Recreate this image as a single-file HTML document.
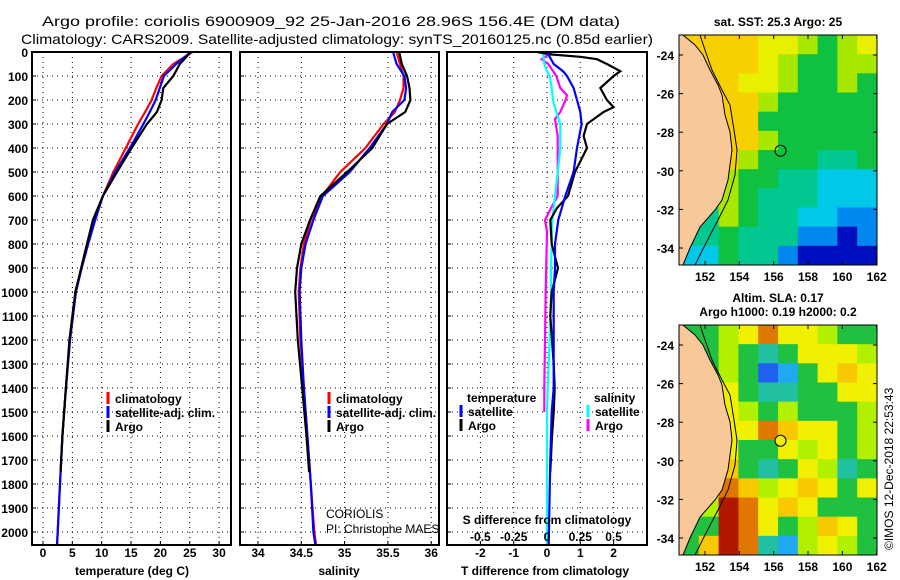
<!DOCTYPE html>
<html><head><meta charset="utf-8">
<style>
html,body{margin:0;padding:0;background:#fff;}
svg{display:block;font-family:"Liberation Sans",sans-serif;}
.t{font-weight:bold;font-size:12px;fill:#000;}
</style></head>
<body>
<svg id="fig" width="900" height="580" viewBox="0 0 900 580" xmlns="http://www.w3.org/2000/svg">
<text x="42" y="26" font-size="14" textLength="578" lengthAdjust="spacingAndGlyphs">Argo profile: coriolis 6900909_92 25-Jan-2016 28.96S 156.4E (DM data)</text>
<text x="21" y="44" font-size="14" textLength="632" lengthAdjust="spacingAndGlyphs">Climatology: CARS2009. Satellite-adjusted climatology: synTS_20160125.nc (0.85d earlier)</text>
</svg>
<script>
// ---- data ----
const climDepth = [0,50,100,150,200,250,300,400,500,600,700,800,900,1000,1200,1400,1600,1800,2000,2050];
const argoDepth = [0,50,100,150,200,250,300,400,500,600,700,800,900,1000,1200,1400,1600,1750];
const tempClim = [25.5,22.2,20.2,19.3,18.5,17.4,16.2,14.1,12.0,10.2,8.7,7.5,6.5,5.6,4.6,3.9,3.3,2.9,2.5,2.4];
const tempSat  = [25.2,22.7,20.6,19.9,19.2,18.2,17.1,14.8,12.3,10.2,8.9,7.7,6.6,5.6,4.6,3.9,3.3,2.9,2.5,2.4];
const tempArgo = [25.2,23.3,22.2,20.5,20.2,19.4,17.7,15.1,12.6,10.2,8.5,7.5,6.5,5.5,4.5,3.9,3.3,3.0];
const salClim = [35.6,35.64,35.68,35.68,35.64,35.58,35.45,35.24,34.95,34.74,34.61,34.53,34.49,34.47,34.49,34.53,34.57,34.61,34.65,34.67];
const salSat  = [35.56,35.6,35.69,35.71,35.69,35.55,35.49,35.29,35.06,34.75,34.64,34.55,34.5,34.48,34.5,34.53,34.57,34.61,34.64,34.66];
const salArgo = [35.63,35.66,35.72,35.75,35.76,35.7,35.49,35.32,35.03,34.72,34.6,34.5,34.45,34.43,34.46,34.51,34.56,34.59];
const dTDepth = [0,10,20,30,50,80,100,150,200,230,250,300,350,400,500,600,650,700,800,900,1000,1100,1200,1300,1400,1500,1600,1750];
const dTArgo = [-0.3,0.1,1.0,1.5,1.8,2.2,2.0,1.6,1.8,2.0,1.7,1.2,1.1,1.2,0.84,0.63,0.3,0.1,0.14,0.33,0.14,0.1,0.15,0.2,0.23,0.2,0.15,0.1];
const satDDepth = [0,50,80,100,150,200,250,300,400,500,600,700,800,900,1000,1200,1400,1500,1700,2050];
const dTSat = [0,0.2,0.48,0.6,0.8,0.9,1.0,1.04,0.9,0.8,0.55,0.34,0.24,0.24,0.2,0.2,0.2,0.14,0.1,0.05];
const dSSat = [-0.03,-0.02,0.0,0.02,0.035,0.045,0.07,0.1,0.1,0.08,0.06,0.04,0.035,0.03,0.03,0.02,0.005,0,0,0];
const argoSDepth = [0,30,50,100,150,180,200,250,280,350,400,500,600,650,700,750,1000,1200,1400,1500];
const dSArgo = [0.035,-0.04,0.01,0.07,0.1,0.15,0.14,0.1,0.06,0.08,0.08,0.08,0.08,0.03,-0.015,0,-0.01,-0.015,-0.02,-0.02];
const depthTicks = [0,100,200,300,400,500,600,700,800,900,1000,1100,1200,1300,1400,1500,1600,1700,1800,1900,2000];
const tempTicks = [0,5,10,15,20,25,30];
const salTicks = [34,34.5,35,35.5,36];
const salTickLabels = ["34","34.5","35","35.5","36"];
const dTTicks = [-2,-1,0,1,2];
const dSTicks = [-0.5,-0.25,0,0.25,0.5];
const dSTickLabels = ["-0.5","-0.25","0","0.25","0.5"];
const latTicks = [-24,-26,-28,-30,-32,-34];
const lonTicks = [152,154,156,158,160,162];
const sstGrid = [
"ooooyylgly","ooooylggll","oooyylgglg","looolggggg","looogggggg","ggoolggggg",
"ggolgggttg","gglggttccc","gglgtttccc","ttlgttccbb","ttgtttbbdb","ccgttbdddd"];
const slaGrid = [
"gglyryylgg","gglgtgyyyl","gglgbcgyoy","ggygttggyy","ggylglgggl","glyyroyygl",
"gyyggylygl","gyogtgyltg","gyrolyoygy","glRryoyggg","ggRryglovg","goRrtclylg"];
const sstColors = {o:"#f8d000",y:"#e8f000",l:"#a8e800",g:"#10c040",t:"#00c890",c:"#00c8e8",b:"#0088f0",d:"#0010c0"};
const slaColors = {g:"#20c040",l:"#b0f000",y:"#f0f000",o:"#f8c800",r:"#e07800",R:"#b01800",t:"#20c0a0",c:"#20a8f0",b:"#2060f0",v:"#f0f000"};

// ---- helpers ----
const svg = document.getElementById('fig');
const NS = 'http://www.w3.org/2000/svg';
function mk(tag, attrs, parent){const e=document.createElementNS(NS,tag);for(const k in attrs)e.setAttribute(k,attrs[k]);(parent||svg).appendChild(e);return e;}
const Y0=52, PY=0.24;
const yD = d => Y0 + d*PY;
const PB = 545;
const xT = v => 43 + v*5.87;
const xS = v => 258 + (v-34)*86.6;
const xDT = v => 547 + v*33.3;
const xDS = v => 547 + v*133.2;

function panel(name, x0, x1){
  const g = mk('g',{});
  
  
  depthTicks.forEach(d=>{ if(d>0){ const l=mk('line',{x1:x0,x2:x1,y1:yD(d),y2:yD(d),stroke:'#000','stroke-width':1,'stroke-dasharray':'1,4'},g);
     
    mk('line',{x1:x0,x2:x0+4,y1:yD(d),y2:yD(d),stroke:'#000'},g);} });
  return g;
}
function frame(g,x0,x1){const r=mk('rect',{x:x0,y:Y0,width:x1-x0,height:PB-Y0,fill:'none',stroke:'#000','stroke-width':2},g);
   }
function vgrid(g,xs){xs.forEach(x=>{const l=mk('line',{x1:x,x2:x,y1:Y0,y2:PB,stroke:'#000','stroke-width':1,'stroke-dasharray':'1,4'},g);
   
  mk('line',{x1:x,x2:x,y1:PB,y2:PB-4,stroke:'#000'},g);});}
function line(g,xs,ds,fx,color,name){
  const pts = xs.map((v,i)=>fx(v).toFixed(1)+','+yD(ds[i]).toFixed(1)).join(' ');
  const p = mk('polyline',{points:pts,fill:'none',stroke:color,'stroke-width':2.2,'stroke-linejoin':'miter'},g);
  
  
}
function txt(g,x,y,s,opts){const t=mk('text',Object.assign({x:x,y:y,'class':'t'},opts||{}),g);t.textContent=s;return t;}
function legendEntry(g,x,y,color,label,name){
  const b=mk('line',{x1:x,x2:x,y1:y-11,y2:y+1,stroke:color,'stroke-width':3},g);
   
  const t=txt(g,x+7,y,label);  
}

// depth axis labels
const dl = mk('g',{});


depthTicks.forEach(d=>{const t=txt(dl,28,yD(d)+5,String(d),{'text-anchor':'end'});
   });

// Panel 1: temperature
const g1 = panel('temperature-panel',32,231);
vgrid(g1,tempTicks.map(xT));
line(g1,tempClim,climDepth,xT,'#ff0000','temp-climatology-line');
line(g1,tempSat,climDepth,xT,'#0000ff','temp-satellite-line');
line(g1,tempArgo,argoDepth,xT,'#000000','temp-argo-line');
frame(g1,32,231);
tempTicks.forEach(v=>{const t=txt(g1,xT(v),557,String(v),{'text-anchor':'middle'});});
{const t=txt(g1,132,575,'temperature (deg C)',{'text-anchor':'middle'});}
legendEntry(g1,108,403,'#ff0000','climatology','legend-climatology');
legendEntry(g1,108,417,'#0000ff','satellite-adj. clim.','legend-satellite');
legendEntry(g1,108,431,'#000000','Argo','legend-argo');

// Panel 2: salinity
const g2 = panel('salinity-panel',240,439);
vgrid(g2,salTicks.map(xS));
line(g2,salClim,climDepth,xS,'#ff0000','sal-climatology-line');
line(g2,salSat,climDepth,xS,'#0000ff','sal-satellite-line');
line(g2,salArgo,argoDepth,xS,'#000000','sal-argo-line');
frame(g2,240,439);
salTicks.forEach((v,i)=>{const t=txt(g2,xS(v),557,salTickLabels[i],{'text-anchor':'middle'});});
{const t=txt(g2,339,575,'salinity',{'text-anchor':'middle'});}
legendEntry(g2,329,403,'#ff0000','climatology','legend-sal-climatology');
legendEntry(g2,329,417,'#0000ff','satellite-adj. clim.','legend-sal-satellite');
legendEntry(g2,329,431,'#000000','Argo','legend-sal-argo');
{const t=txt(g2,326,518,'CORIOLIS',{'class':'','font-size':'12'});}
{const t=txt(g2,326,533,'PI: Christophe MAES',{'class':'','font-size':'12'});}

// Panel 3: differences
const g3 = panel('difference-panel',447,647);
vgrid(g3,dTTicks.map(xDT));
line(g3,dSArgo,argoSDepth,xDS,'#ff00ff','sal-diff-argo-line');
line(g3,dSSat,satDDepth,xDS,'#00ffff','sal-diff-satellite-line');
line(g3,dTArgo,dTDepth,xDT,'#000000','temp-diff-argo-line');
line(g3,dTSat,satDDepth,xDT,'#0000ff','temp-diff-satellite-line');
frame(g3,447,647);
dTTicks.forEach(v=>{const t=txt(g3,xDT(v),557,String(v),{'text-anchor':'middle'});});
dSTicks.forEach((v,i)=>{const t=txt(g3,xDS(v),541,dSTickLabels[i],{'text-anchor':'middle'});});
{const t=txt(g3,547,524,'S difference from climatology',{'text-anchor':'middle'});}
{const t=txt(g3,545,575,'T difference from climatology',{'text-anchor':'middle'});}
{const t=txt(g3,467,402,'temperature');}
{const t=txt(g3,594,402,'salinity');}
legendEntry(g3,461,416,'#0000ff','satellite','legend-tdiff-satellite');
legendEntry(g3,461,430,'#000000','Argo','legend-tdiff-argo');
legendEntry(g3,588,416,'#00ffff','satellite','legend-sdiff-satellite');
legendEntry(g3,588,430,'#ff00ff','Argo','legend-sdiff-argo');

// ---- maps ----
const MX0=679, MX1=877, MW=MX1-MX0;
const lonX = lon => 705 + (lon-152)*17.17;
const latY = (top,lat) => top + 20 + (-24-lat)*19.3;
const coastRel = [[679,0],[683,0],[695,10],[703,20],[710,35],[718,50],[722,60],[725,80],[730,97],[732,115],[730,130],[728,145],[722,165],[715,175],[700,192],[690,213],[683,230],[679,230]];
const shelfRel = [[700,0],[705,15],[712,35],[722,55],[730,70],[734,95],[737,115],[735,140],[728,165],[718,185],[705,210],[695,230]];
function drawMap(name,top,grid,colors,circleFill,titleLines){
  const g = mk('g',{});
  
  
  const H=230, rows=grid.length;
  const ch = H/rows;
  const cid='clip'+name;
  const cp = mk('clipPath',{id:cid},g); mk('rect',{x:MX0,y:top,width:MW,height:H},cp);
  const cg = mk('g',{'clip-path':'url(#'+cid+')'},g);
  grid.forEach((row,r)=>{
    const cells=row.replace(/ /g,'');
    const cw = MW/cells.length;
    for(let c=0;c<cells.length;c++){
      const cell=mk('rect',{x:MX0+c*cw,y:top+r*ch,width:cw+0.6,height:ch+0.6,fill:colors[cells[c]]||'#10c040'},cg);
      
      
    }
  });
  const land = mk('polygon',{points:coastRel.map(p=>p[0]+','+(p[1]+top)).join(' '),fill:'#f8c898',stroke:'#000','stroke-width':1},cg);
  
  
  const shelf = mk('polyline',{points:shelfRel.map(p=>p[0]+','+(p[1]+top)).join(' '),fill:'none',stroke:'#000','stroke-width':1},cg);
  
  
  const circ = mk('circle',{cx:lonX(156.4),cy:latY(top,-28.96),r:5.5,fill:circleFill,stroke:'#000','stroke-width':1},g);
  
  
  const fr = mk('rect',{x:MX0,y:top,width:MW,height:H,fill:'none',stroke:'#000','stroke-width':1},g);
  
  
  latTicks.forEach(l=>{
    const yy = latY(top,l);
    mk('line',{x1:MX0,x2:MX0+4,y1:yy,y2:yy,stroke:'#000'},g);
    mk('line',{x1:MX1,x2:MX1-4,y1:yy,y2:yy,stroke:'#000'},g);
    const t=txt(g,674,yy+5,String(l),{'text-anchor':'end'});
     });
  lonTicks.forEach(l=>{const x=lonX(l);
    mk('line',{x1:x,x2:x,y1:top+H,y2:top+H-4,stroke:'#000'},g);
    mk('line',{x1:x,x2:x,y1:top,y2:top+4,stroke:'#000'},g);
    const t=txt(g,x,top+H+16,String(l),{'text-anchor':'middle'});
     });
  titleLines.forEach((s,i)=>{const t=txt(g,778,s[1],s[0],{'text-anchor':'middle'});
     });
}
drawMap('sst-map',35,sstGrid,sstColors,'none',[['sat. SST: 25.3 Argo: 25',26]]);
drawMap('sla-map',325,slaGrid,slaColors,'#f0f000',[['Altim. SLA: 0.17',302],['Argo h1000: 0.19 h2000: 0.2',316]]);
{const t=mk('text',{x:0,y:0,'font-size':'12',transform:'translate(893,550) rotate(-90)'});
 t.textContent='©IMOS 12-Dec-2018 22:53:43';
 
 }
</script>
</body></html>
